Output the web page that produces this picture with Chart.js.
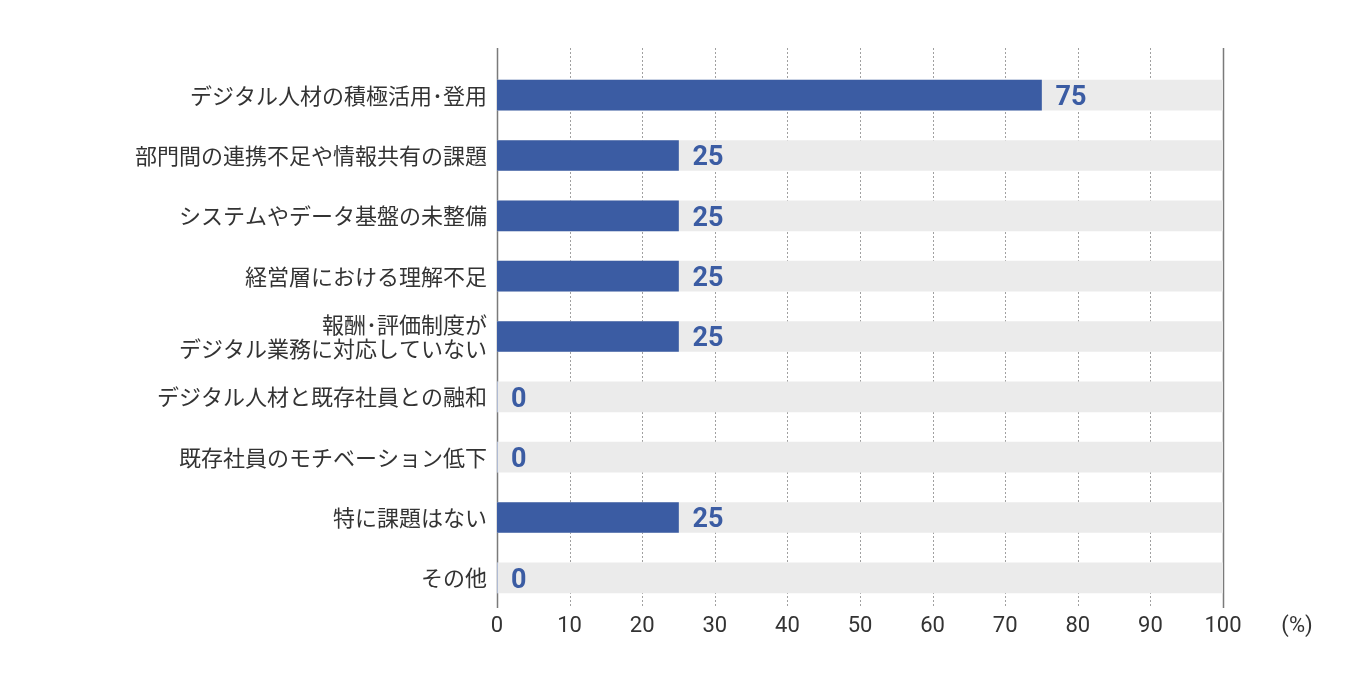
<!DOCTYPE html>
<html>
<head>
<meta charset="utf-8">
<script src="https://cdn.jsdelivr.net/npm/chart.js@4"></script>
<style>
  html, body { margin: 0; padding: 0; background: #fff; }
  #wrap { width: 1346px; height: 685px; }
</style>
</head>
<body>
<div id="wrap"><canvas id="barChart" width="1346" height="685"></canvas></div>
<script>
// data
const categories = [
    'デジタル人材の積極活用･登用',
    '部門間の連携不足や情報共有の課題',
    'システムやデータ基盤の未整備',
    '経営層における理解不足',
    ['報酬･評価制度が', 'デジタル業務に対応していない'],
    'デジタル人材と既存社員との融和',
    '既存社員のモチベーション低下',
    '特に課題はない',
    'その他'
];
const values = [75, 25, 25, 25, 25, 0, 0, 25, 0];
const fullScale = categories.map(() => 100);
const xTicks = [0, 10, 20, 30, 40, 50, 60, 70, 80, 90, 100];
const unitLabel = '(%)';

const BLUE = '#3b5ca3';
const TEXT = '#333333';

// dotted grid + solid end lines, drawn a bit above the first bar like the original
const gridPlugin = {
    id: 'gridLines',
    beforeDatasetsDraw(chart) {
        const ctx = chart.ctx;
        const area = chart.chartArea;
        const x = chart.scales.x;
        ctx.save();
        xTicks.forEach(v => {
            const px = Math.round(x.getPixelForValue(v)) + 0.5;
            ctx.beginPath();
            if (v === 0 || v === 100) {
                ctx.setLineDash([]);
                ctx.strokeStyle = '#7a7a7a';
                ctx.lineWidth = 1.5;
            } else {
                ctx.setLineDash([2, 2]);
                ctx.strokeStyle = '#a0a0a0';
                ctx.lineWidth = 1;
            }
            ctx.moveTo(px, area.top - 17);
            ctx.lineTo(px, area.bottom);
            ctx.stroke();
        });
        ctx.restore();
    },
    afterDatasetsDraw(chart) {
        const ctx = chart.ctx;
        const meta = chart.getDatasetMeta(0);
        ctx.save();
        ctx.font = 'bold 27px Roboto';
        ctx.fillStyle = BLUE;
        ctx.textAlign = 'left';
        ctx.textBaseline = 'middle';
        meta.data.forEach((bar, i) => {
            ctx.fillText(String(values[i]), bar.x + 14, bar.y + 3);
        });
        // unit label after the last tick
        ctx.font = '22px Roboto';
        ctx.fillStyle = TEXT;
        ctx.textAlign = 'center';
        const x = chart.scales.x;
        ctx.fillText(unitLabel, x.getPixelForValue(100) + 74, chart.chartArea.bottom + 18);
        ctx.restore();
    }
};

new Chart(document.getElementById('barChart').getContext('2d'), {
    type: 'bar',
    data: {
        labels: categories,
        datasets: [
            {
                data: values,
                backgroundColor: BLUE,
                barThickness: 30,
                grouped: false,
                order: 0
            },
            {
                data: fullScale,
                backgroundColor: '#ebebeb',
                barThickness: 30,
                grouped: false,
                order: 1
            }
        ]
    },
    options: {
        indexAxis: 'y',
        responsive: false,
        animation: false,
        devicePixelRatio: 1,
        layout: { padding: { top: 65, right: 123, left: 0, bottom: 0 } },
        scales: {
            x: {
                min: 0, max: 100,
                afterBuildTicks: s => { s.ticks = xTicks.map(v => ({ value: v })); },
                afterFit: s => { s.height = 77; },
                grid: { display: false, drawTicks: false },
                border: { display: false },
                ticks: {
                    padding: 5,
                    color: TEXT,
                    font: { family: 'Roboto', size: 22 }
                }
            },
            y: {
                afterFit: s => { s.width = 497; },
                grid: { display: false, drawTicks: false },
                border: { display: false },
                ticks: {
                    padding: 10,
                    color: TEXT,
                    font: { family: "'Noto Sans CJK JP'", size: 22, lineHeight: 1.08 }
                }
            }
        },
        plugins: {
            legend: { display: false },
            tooltip: { enabled: false }
        }
    },
    plugins: [gridPlugin]
});
</script>
</body>
</html>
